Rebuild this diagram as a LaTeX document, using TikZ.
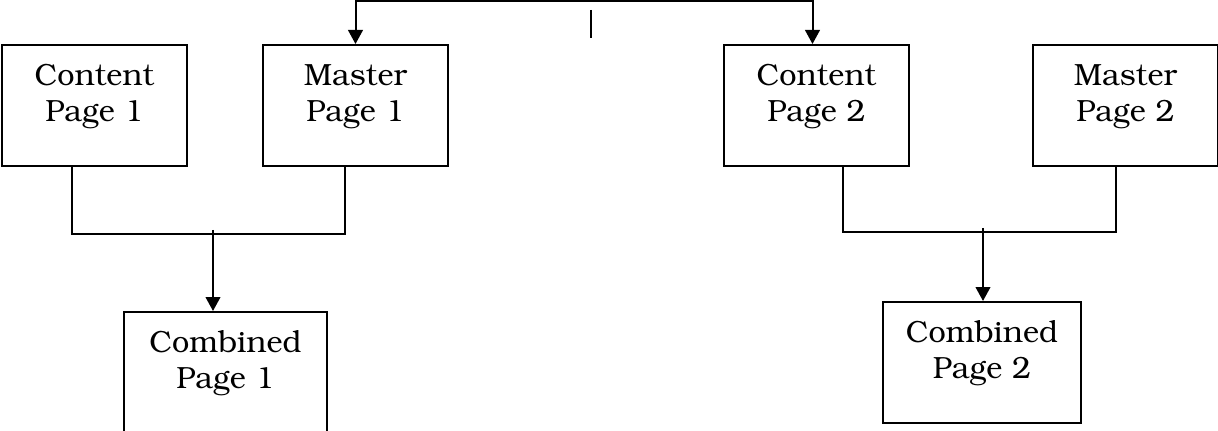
\documentclass[tikz,border=0pt]{standalone}
\usepackage[T1]{fontenc}
\usepackage{bookman}
\usetikzlibrary{arrows.meta,calc}

\tikzset{pagebox/.style = {draw, line width=1.5pt, inner sep=0pt,
                           minimum width=#1, minimum height=90.75pt},
         pagebox/.default=138.75pt,
         pagetext/.style = {anchor=north, align=center, inner sep=0pt,
                            font=\fontsize{23}{27}\selectfont},
         link/.style = {line width=1.5pt},
         linkarrow/.style = {link, -{Triangle[width=11pt,length=10.5pt]}},
         linkboth/.style = {link, {Triangle[width=11pt,length=10.5pt]}-{Triangle[width=11pt,length=10.5pt]}}
        }

\begin{document}
\begin{tikzpicture}[x=0.75pt, y=-0.75pt]
  \useasboundingbox (0,0) rectangle (1218,431);

  \node[pagebox] (cp1) at (94.5,105.5) {};
  \node[pagebox] (mp1) at (355.5,105.5) {};
  \node[pagebox] (cp2) at (816.5,105.5) {};
  \node[pagebox] (mp2) at (1125.5,105.5) {};
  \node[pagebox=152.25pt] (cb1) at (225.5,372.5) {};
  \node[pagebox=148.5pt] (cb2) at (982,362.5) {};

  \node[pagetext] (cp1txt) at ($(cp1.north)+(0,20)$) {Content\\Page 1};
  \node[pagetext] (mp1txt) at ($(mp1.north)+(0,20)$) {Master\\Page 1};
  \node[pagetext] (cp2txt) at ($(cp2.north)+(0,20)$) {Content\\Page 2};
  \node[pagetext] (mp2txt) at ($(mp2.north)+(0,20)$) {Master\\Page 2};
  \node[pagetext] (cb1txt) at ($(cb1.north)+(0,20)$) {Combined\\Page 1};
  \node[pagetext] (cb2txt) at ($(cb2.north)+(0,20)$) {Combined\\Page 2};

  \coordinate (tickup) at (590.5,10);
  \coordinate (tickdown) at (590.5,38);
  \draw[link] (tickup) -- (tickdown);

  \draw[linkboth] (mp1.north) |- ($(cp2.north)+(-4,-43)$) -- ($(cp2.north)+(-4,0)$);

  \draw[link] ($(cp1.south)+(-22.5,0)$) |- ($(mp1.south)+(-10.5,67)$) -- ($(mp1.south)+(-10.5,0)$);
  \draw[linkarrow] ($(cb1.north)+(-12.5,-81)$) -- ($(cb1.north)+(-12.5,0)$);

  \draw[link] ($(cp2.south)+(26.5,0)$) |- ($(mp2.south)+(-9.5,65)$) -- ($(mp2.south)+(-9.5,0)$);
  \draw[linkarrow] ($(cb2.north)+(1,-73)$) -- ($(cb2.north)+(1,0)$);
\end{tikzpicture}
\end{document}
